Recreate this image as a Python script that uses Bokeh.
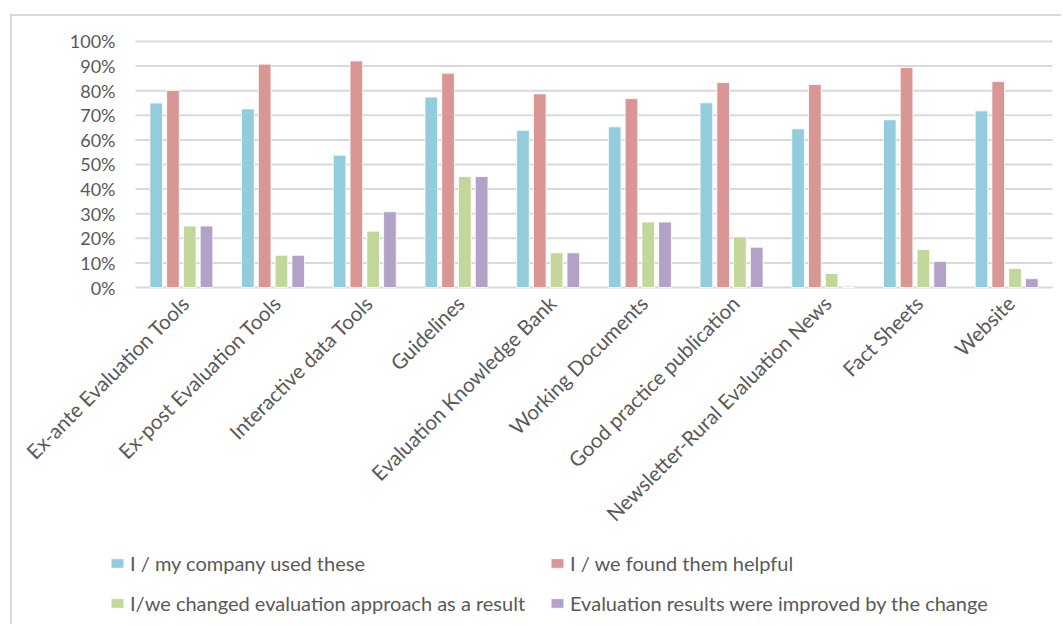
from math import pi

from bokeh.core.properties import value
from bokeh.embed import file_html
from bokeh.models import ColumnDataSource, Legend, LegendItem, Range1d
from bokeh.plotting import figure
from bokeh.resources import INLINE

# Survey results per evaluation resource (share of respondents)
categories = [
    "Ex-ante Evaluation Tools",
    "Ex-post Evaluation Tools",
    "Interactive data Tools",
    "Guidelines",
    "Evaluation Knowledge Bank",
    "Working Documents",
    "Good practice publication",
    "Newsletter-Rural Evaluation News",
    "Fact Sheets",
    "Website",
]
used = [0.750, 0.726, 0.538, 0.774, 0.639, 0.653, 0.751, 0.645, 0.682, 0.718]
helpful = [0.801, 0.908, 0.921, 0.871, 0.787, 0.768, 0.833, 0.825, 0.894, 0.837]
changed = [0.250, 0.131, 0.229, 0.451, 0.141, 0.266, 0.206, 0.057, 0.154, 0.077]
improved = [0.250, 0.131, 0.308, 0.451, 0.141, 0.266, 0.164, 0.000, 0.106, 0.036]

series_labels = [
    "I / my company used these",
    "I / we found them helpful",
    "I/we changed evaluation approach as a result",
    "Evaluation results were improved by the change",
]
series_values = [used, helpful, changed, improved]
colors = ["#93CDDD", "#D99694", "#C3D69B", "#B3A2C7"]
y_ticks = [i / 10 for i in range(11)]

FONT = "Lato"
GREY_TEXT = "#595959"
GRID = "#D9D9D9"

n = len(categories)
centers = [i + 0.5 for i in range(n)]

# The plotting frame fills the whole canvas; the category slots occupy [0, n]
# and the value axis [0, 1], the remaining room holds labels and the legend.
p = figure(
    x_range=Range1d(-1.3413, 10.1199),
    y_range=Range1d(-1.378, 1.1016),
    width=1051,
    height=610,
    output_backend="svg",
    toolbar_location=None,
    min_border=0,
)
p.margin = (14, 0, 0, 10)
p.styles = {"border-top": "2px solid #D9D9D9", "border-left": "2px solid #D9D9D9"}
p.outline_line_color = None
p.axis.visible = False
p.grid.visible = False

# horizontal gridlines
p.segment(x0=[0] * len(y_ticks), x1=[n] * len(y_ticks), y0=y_ticks, y1=y_ticks,
          line_color=GRID, line_width=2)

# value labels
p.text(x=[0] * len(y_ticks), y=y_ticks, text=[f"{round(t * 100)}%" for t in y_ticks],
       x_offset=-20, text_align="right", text_baseline="middle",
       text_font=value(FONT), text_font_size="18px", text_color=GREY_TEXT)

# grouped bars
pitch = 0.183
bar_w = 0.138
offsets = [-1.5 * pitch, -0.5 * pitch, 0.5 * pitch, 1.5 * pitch]
renderers = []
for vals, color, off in zip(series_values, colors, offsets):
    src = ColumnDataSource(dict(x=[c + off for c in centers], top=vals))
    r = p.vbar(x="x", top="top", width=bar_w, source=src,
               fill_color=color, line_color="white", line_width=0.8)
    renderers.append(r)

# rotated category labels
p.text(x=centers, y=[0] * n, text=categories, angle=pi / 4,
       x_offset=4, y_offset=12, text_align="right", text_baseline="middle",
       text_font=value(FONT), text_font_size="20.5px", text_color=GREY_TEXT)

legend = Legend(
    items=[LegendItem(label=lab, renderers=[r]) for lab, r in zip(series_labels, renderers)],
    location=(97, 10),
    orientation="horizontal",
    ncols=2,
    glyph_width=16,
    glyph_height=12,
    label_width=405,
    label_height=26,
    label_standoff=5,
    spacing=14,
    padding=0,
    margin=0,
    border_line_color=None,
    background_fill_alpha=0,
    label_text_font=FONT,
    label_text_font_size="20px",
    label_text_color=GREY_TEXT,
)
p.add_layout(legend, "center")

with open("out.html", "w") as f:
    f.write(file_html(p, INLINE))
